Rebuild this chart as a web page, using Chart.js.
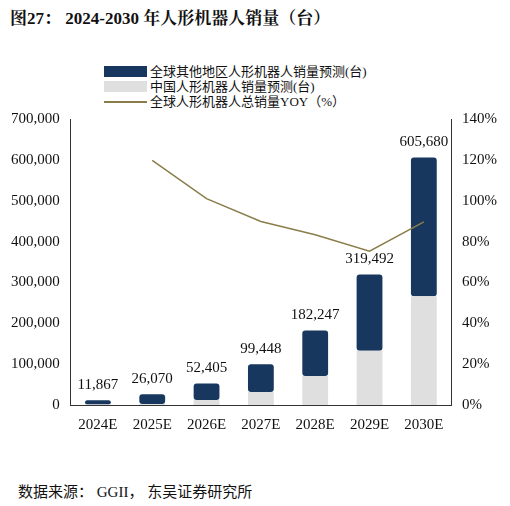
<!DOCTYPE html>
<html><head><meta charset="utf-8">
<script src="https://cdn.jsdelivr.net/npm/chart.js@4"></script>
<style>
body{margin:0;width:510px;height:506px;background:#fff;font-family:"Liberation Serif","Noto Sans CJK SC";position:relative;overflow:hidden}
#title{position:absolute;left:10px;top:4px;font-size:17px;font-weight:bold;color:#111;font-family:"Liberation Serif","Noto Serif CJK SC","Noto Sans CJK SC"}
#src{position:absolute;left:18px;top:480px;font-size:15px;color:#111;font-family:"Liberation Serif","Noto Sans CJK SC"}
#legend{position:absolute;left:104px;top:64px;font-size:13px;line-height:15px;color:#111;font-family:"Liberation Serif","Noto Sans CJK SC"}
.it{display:flex;align-items:center}
.sw{width:43px;height:11px;margin-right:3px}
#wrap{position:absolute;left:0;top:105px;width:510px;height:332px}
</style></head><body>
<div id="title">图27：  2024-2030 年人形机器人销量（台）</div>
<div id="legend">
<div class="it"><div class="sw" style="background:#17375e"></div>全球其他地区人形机器人销量预测(台)</div>
<div class="it"><div class="sw" style="background:#dfdfdf"></div>中国人形机器人销量预测(台)</div>
<div class="it"><div class="sw" style="height:2px;background:#8b7d4a"></div>全球人形机器人总销量YOY（%）</div>
</div>
<div id="wrap"><canvas id="c"></canvas></div>
<div id="src">数据来源：  GGII，  东吴证券研究所</div>
<script>
const categories=["2024E","2025E","2026E","2027E","2028E","2029E","2030E"];
const totals=[11867,26070,52405,99448,182247,319492,605680];
const china=[1000,2500,12000,32000,71000,133000,266000];
const yoy=[null,119.7,101.0,89.8,83.3,75.3,89.6];
const leftTicks=[0,100000,200000,300000,400000,500000,600000,700000];
const rest=totals.map((t,i)=>t-china[i]);
const labelPlugin={id:'lbl',afterDatasetsDraw(ch){const ctx=ch.ctx;const m=ch.getDatasetMeta(2);ctx.save();ctx.font='15px "Liberation Serif"';ctx.fillStyle='#111';ctx.textAlign='center';ctx.textBaseline='bottom';
m.data.forEach((b,i)=>{ctx.fillText(totals[i].toLocaleString('en-US'),b.x,b.y-8);});ctx.restore();}};
new Chart(document.getElementById('c'),{
data:{labels:categories,datasets:[
{type:'line',data:yoy,borderColor:'#8b7d4a',borderWidth:1.5,pointRadius:0,yAxisID:'y2',order:0},
{type:'bar',data:china,backgroundColor:'#dfdfdf',stack:'s',yAxisID:'y',barPercentage:0.5,categoryPercentage:0.95,borderRadius:3,borderSkipped:false,order:1},
{type:'bar',data:rest,backgroundColor:'#17375e',stack:'s',yAxisID:'y',barPercentage:0.5,categoryPercentage:0.95,borderRadius:3,borderSkipped:false,order:1}
]},
options:{responsive:true,maintainAspectRatio:false,animation:false,
layout:{padding:{left:8,right:10,top:14,bottom:0}},
plugins:{legend:{display:false},tooltip:{enabled:false}},
scales:{
x:{stacked:true,grid:{display:false,drawTicks:true,offset:true},border:{color:'#333'},ticks:{color:'#111',font:{family:'Liberation Serif',size:15}}},
y:{stacked:true,min:0,max:700000,afterBuildTicks:a=>{a.ticks=leftTicks.map(v=>({value:v}))},grid:{display:false},border:{color:'#333'},ticks:{color:'#111',font:{family:'Liberation Serif',size:15},callback:v=>v.toLocaleString('en-US')}},
y2:{position:'right',min:0,max:140,grid:{display:false},border:{color:'#333'},ticks:{stepSize:20,color:'#111',font:{family:'Liberation Serif',size:15},callback:v=>v+'%'}}
}},
plugins:[labelPlugin]});
</script></body></html>
